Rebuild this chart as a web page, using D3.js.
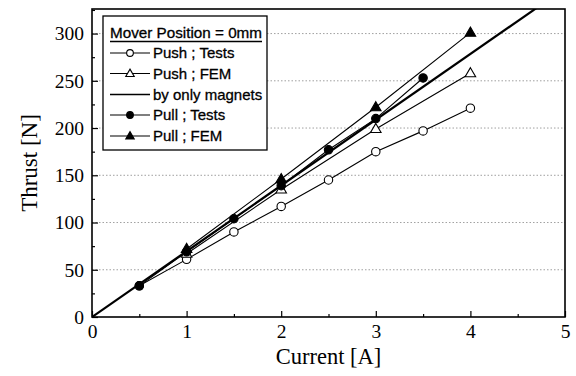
<!DOCTYPE html>
<html>
<head>
<meta charset="utf-8">
<script src="https://cdn.jsdelivr.net/npm/d3@7"></script>
<style>
  body { margin: 0; background: #fff; }
  svg { display: block; }
  .serif { font-family: "Liberation Serif", "Times New Roman", serif; }
  .sans { font-family: "Liberation Sans", Arial, sans-serif; }
</style>
</head>
<body>
<div id="chart"></div>
<script>
/* chart values */
var xTicks = [0, 1, 2, 3, 4, 5];
var yTicks = [0, 50, 100, 150, 200, 250, 300];

var pushTestsX = [0.5, 1, 1.5, 2, 2.5, 3, 3.5, 4];
var pushTestsY = [33, 61, 90, 117, 145, 175, 197, 221];

var pushFemX = [1, 2, 3, 4];
var pushFemY = [67, 135, 199, 258];

var magnetsX = [0, 5];
var magnetsY = [0, 348];

var pullTestsX = [0.5, 1, 1.5, 2, 2.5, 3, 3.5];
var pullTestsY = [33, 69, 104, 139, 177, 210, 253];

var pullFemX = [1, 2, 3, 4];
var pullFemY = [72, 146, 222, 301];

var legendTitle = "Mover Position = 0mm";
var legendLabels = ["Push ; Tests", "Push ; FEM", "by only magnets", "Pull ; Tests", "Pull ; FEM"];

var width = 576, height = 376;
var margin = {top: 9, right: 11, bottom: 59, left: 92};

var svg = d3.select("#chart").append("svg")
    .attr("width", width)
    .attr("height", height);

var x = d3.scaleLinear().domain([0, 5]).range([margin.left, width - margin.right]);
var y = d3.scaleLinear().domain([0, 326]).range([height - margin.bottom, margin.top]);

// dotted grid
svg.append("g").selectAll("line")
    .data(yTicks.filter(function (d) { return d > 0; }))
    .enter().append("line")
    .attr("x1", x(0)).attr("x2", x(5))
    .attr("y1", function (d) { return y(d); })
    .attr("y2", function (d) { return y(d); })
    .attr("stroke", "#888")
    .attr("stroke-width", 0.8)
    .attr("stroke-dasharray", "1.5,2");

// clip for data
svg.append("clipPath").attr("id", "clip")
    .append("rect")
    .attr("x", x(0)).attr("y", y(326))
    .attr("width", x(5) - x(0)).attr("height", y(0) - y(326));

var line = d3.line()
    .x(function (d) { return x(d[0]); })
    .y(function (d) { return y(d[1]); });

function zip(xs, ys) {
    return xs.map(function (v, i) { return [v, ys[i]]; });
}

var series = [
    {pts: zip(pushTestsX, pushTestsY), marker: "circle", fill: "#fff", w: 1.1},
    {pts: zip(pushFemX, pushFemY), marker: "triangle", fill: "#fff", w: 1.1},
    {pts: zip(magnetsX, magnetsY), marker: null, fill: null, w: 2.2},
    {pts: zip(pullTestsX, pullTestsY), marker: "circle", fill: "#000", w: 1.1},
    {pts: zip(pullFemX, pullFemY), marker: "triangle", fill: "#000", w: 1.1}
];

var plot = svg.append("g").attr("clip-path", "url(#clip)");

series.forEach(function (s) {
    plot.append("path")
        .datum(s.pts)
        .attr("d", line)
        .attr("fill", "none")
        .attr("stroke", "#000")
        .attr("stroke-width", s.w);
});

function drawMarker(g, type, fill, cx, cy, scale) {
    scale = scale || 1;
    if (type == "circle") {
        g.append("circle")
            .attr("cx", cx).attr("cy", cy).attr("r", 4.2 * scale)
            .attr("fill", fill).attr("stroke", "#000").attr("stroke-width", 1.1);
    } else if (type == "triangle") {
        var sym = d3.symbol().type(d3.symbolTriangle).size(48 * scale * scale);
        g.append("path")
            .attr("d", sym)
            .attr("transform", "translate(" + cx + "," + (cy + 0.5) + ")")
            .attr("fill", fill).attr("stroke", "#000").attr("stroke-width", 1.1);
    }
}

series.forEach(function (s) {
    if (!s.marker) return;
    s.pts.forEach(function (p) {
        drawMarker(svg, s.marker, s.fill, x(p[0]), y(p[1]));
    });
});

// frame
svg.append("rect")
    .attr("x", x(0)).attr("y", y(326))
    .attr("width", x(5) - x(0)).attr("height", y(0) - y(326))
    .attr("fill", "none").attr("stroke", "#000").attr("stroke-width", 1.6);

// axes, ticks inward
var xAxis = d3.axisBottom(x).tickValues(xTicks).tickSize(-6).tickPadding(7.5).tickFormat(d3.format("d"));
var yAxis = d3.axisLeft(y).tickValues(yTicks).tickSize(-6).tickPadding(8).tickFormat(d3.format("d"));

var gx = svg.append("g").attr("transform", "translate(0," + y(0) + ")").call(xAxis);
var gy = svg.append("g").attr("transform", "translate(" + x(0) + ",0)").call(yAxis);

// minor ticks
var gxm = svg.append("g").attr("transform", "translate(0," + y(0) + ")")
    .call(d3.axisBottom(x).tickValues([0.5, 1.5, 2.5, 3.5, 4.5]).tickSize(-3).tickFormat(""));
var gym = svg.append("g").attr("transform", "translate(" + x(0) + ",0)")
    .call(d3.axisLeft(y).tickValues([25, 75, 125, 175, 225, 275, 325]).tickSize(-3).tickFormat(""));

[gx, gy, gxm, gym].forEach(function (g) {
    g.attr("font-family", null).attr("font-size", null);
    g.select(".domain").remove();
    g.selectAll("line").attr("stroke", "#000").attr("stroke-width", 1.2);
    g.selectAll("text")
        .attr("class", "serif")
        .style("font-size", "19.5px")
        .attr("fill", "#000");
});

// axis titles
svg.append("text")
    .attr("class", "serif")
    .attr("x", (x(0) + x(5)) / 2)
    .attr("y", 363.5)
    .attr("text-anchor", "middle")
    .style("font-size", "22.5px")
    .text("Current [A]");

svg.append("text")
    .attr("class", "serif")
    .attr("transform", "translate(37," + ((y(0) + y(326)) / 2) + ") rotate(-90)")
    .attr("text-anchor", "middle")
    .style("font-size", "23px")
    .text("Thrust [N]");

// legend
var lg = svg.append("g");
lg.append("rect")
    .attr("x", 103).attr("y", 16)
    .attr("width", 164).attr("height", 134)
    .attr("fill", "#fff").attr("stroke", "#000").attr("stroke-width", 1.3);

lg.append("text")
    .attr("class", "sans")
    .attr("x", 110).attr("y", 38)
    .style("font-size", "14.5px")
    .attr("stroke", "#000").attr("stroke-width", 0.3)
    .attr("textLength", 152)
    .attr("lengthAdjust", "spacingAndGlyphs")
    .text(legendTitle);
lg.append("line")
    .attr("x1", 110).attr("x2", 262)
    .attr("y1", 41.5).attr("y2", 41.5)
    .attr("stroke", "#000").attr("stroke-width", 1.6);

var rowY = [53, 73.5, 94.5, 115, 136];
series.forEach(function (s, i) {
    var yy = rowY[i];
    lg.append("line")
        .attr("x1", 110).attr("x2", 150)
        .attr("y1", yy).attr("y2", yy)
        .attr("stroke", "#000").attr("stroke-width", s.w > 2 ? 1.6 : 1.1);
    if (s.marker) drawMarker(lg, s.marker, s.fill, 130, yy, 0.8);
    lg.append("text")
        .attr("class", "sans")
        .attr("x", 153).attr("y", yy + 5)
        .style("font-size", "15px")
        .attr("stroke", "#000").attr("stroke-width", 0.3)
        .text(legendLabels[i]);
});
</script>
</body>
</html>
